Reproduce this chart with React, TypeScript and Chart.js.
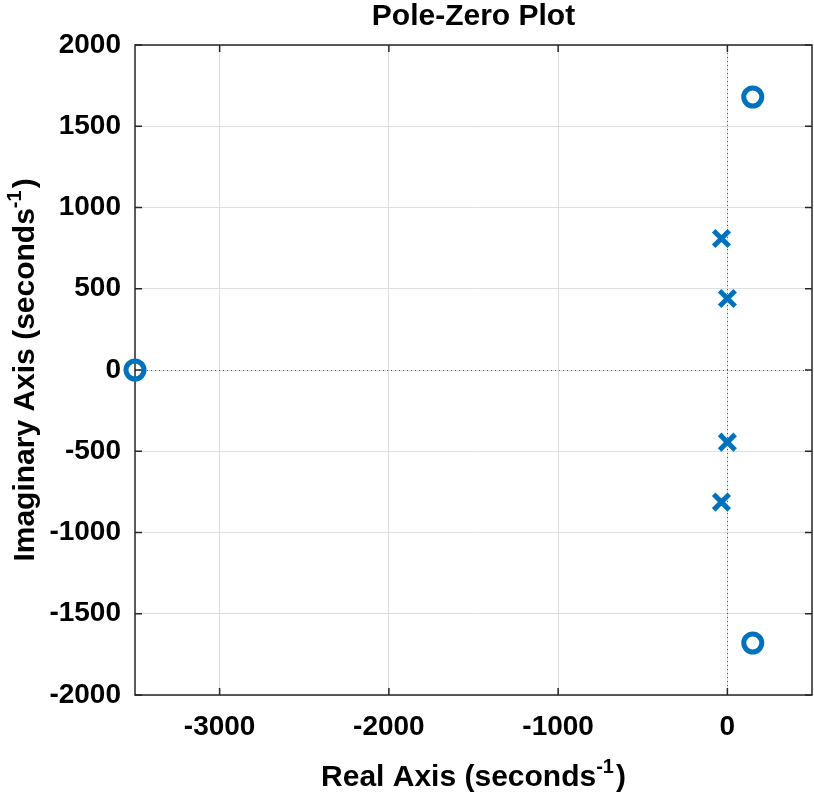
import React, { useEffect, useRef } from "react";
import { Chart, registerables } from "chart.js";

Chart.register(...registerables);

const zerosX = [150, 150, -3500];
const zerosY = [1680, -1680, 0];
const polesX = [-35, 0, 0, -35];
const polesY = [809, 440, -444, -813];
const xTickValues = [-3000, -2000, -1000, 0];
const yTickValues = [-2000, -1500, -1000, -500, 0, 500, 1000, 1500, 2000];
const titleText = "Pole-Zero Plot";
const xTitleMain = "Real Axis (seconds";
const yTitleMain = "Imaginary Axis (seconds";
const titleSup = "-1";
const titleEnd = ")";

const BLUE = "#0072BD";
const FONT = "'Liberation Sans', Arial, Helvetica, sans-serif";

function drawSupTitle(ctx: CanvasRenderingContext2D, main: string, sup: string, end: string, cx: number, baseline: number) {
  const mainFont = `bold 30px ${FONT}`;
  const supFont = `bold 20px ${FONT}`;
  ctx.font = mainFont;
  const wMain = ctx.measureText(main).width;
  const wEnd = ctx.measureText(end).width;
  ctx.font = supFont;
  const wSup = ctx.measureText(sup).width;
  const total = wMain + wSup + 2 + wEnd;
  let x = cx - total / 2;
  ctx.textAlign = "left";
  ctx.textBaseline = "alphabetic";
  ctx.fillStyle = "#000";
  ctx.font = mainFont;
  ctx.fillText(main, x, baseline);
  x += wMain;
  ctx.font = supFont;
  ctx.fillText(sup, x, baseline - 13);
  x += wSup + 2;
  ctx.font = mainFont;
  ctx.fillText(end, x, baseline);
}

const framePlugin = {
  id: "frame",
  beforeDatasetsDraw(chart: any) {
    const { ctx, chartArea } = chart;
    const { left, right, top, bottom } = chartArea;
    const xs = chart.scales.x;
    const ys = chart.scales.y;
    ctx.save();
    ctx.strokeStyle = "#555555";
    ctx.lineWidth = 1;
    ctx.setLineDash([1, 3]);
    const x0 = Math.round(xs.getPixelForValue(0)) + 0.5;
    const y0 = Math.round(ys.getPixelForValue(0)) + 0.5;
    ctx.beginPath();
    ctx.moveTo(x0, top);
    ctx.lineTo(x0, bottom);
    ctx.moveTo(left, y0);
    ctx.lineTo(right, y0);
    ctx.stroke();
    ctx.setLineDash([]);
    ctx.strokeStyle = "#262626";
    ctx.lineWidth = 1.5;
    ctx.strokeRect(left, top, right - left, bottom - top);
    const tl = 7;
    ctx.beginPath();
    xTickValues.forEach((v) => {
      const px = xs.getPixelForValue(v);
      ctx.moveTo(px, bottom);
      ctx.lineTo(px, bottom - tl);
      ctx.moveTo(px, top);
      ctx.lineTo(px, top + tl);
    });
    yTickValues.forEach((v) => {
      const py = ys.getPixelForValue(v);
      ctx.moveTo(left, py);
      ctx.lineTo(left + tl, py);
      ctx.moveTo(right, py);
      ctx.lineTo(right - tl, py);
    });
    ctx.stroke();
    ctx.restore();
  },
  afterDraw(chart: any) {
    const { ctx, chartArea } = chart;
    const { left, right, top, bottom } = chartArea;
    const cx = (left + right) / 2;
    const cy = (top + bottom) / 2;
    ctx.save();
    ctx.fillStyle = "#000";
    ctx.font = `bold 30px ${FONT}`;
    ctx.textAlign = "center";
    ctx.textBaseline = "alphabetic";
    ctx.fillText(titleText, cx, 25);
    drawSupTitle(ctx, xTitleMain, titleSup, titleEnd, cx, 786);
    ctx.translate(34, cy);
    ctx.rotate(-Math.PI / 2);
    drawSupTitle(ctx, yTitleMain, titleSup, titleEnd, 0, 0);
    ctx.restore();
  },
};

export default function App() {
  const ref = useRef<HTMLCanvasElement>(null);
  useEffect(() => {
    document.body.style.margin = "0";
    const canvas = ref.current!;
    const chart = new Chart(canvas, {
      type: "scatter",
      data: {
        datasets: [
          {
            label: "Zeros",
            data: zerosX.map((x, i) => ({ x, y: zerosY[i] })),
            pointStyle: "circle",
            radius: 9,
            borderWidth: 5,
            borderColor: BLUE,
            backgroundColor: "rgba(0,0,0,0)",
            clip: false,
          },
          {
            label: "Poles",
            data: polesX.map((x, i) => ({ x, y: polesY[i] })),
            pointStyle: "crossRot",
            radius: 11,
            borderWidth: 5,
            borderColor: BLUE,
            backgroundColor: BLUE,
            clip: false,
          },
        ],
      },
      options: {
        animation: false,
        responsive: false,
        layout: { autoPadding: false, padding: { right: 2, top: 45 } },
        plugins: {
          legend: { display: false },
          tooltip: { enabled: false },
          title: { display: false },
        },
        scales: {
          x: {
            type: "linear",
            min: -3500,
            max: 500,
            afterBuildTicks: (s: any) => {
              s.ticks = xTickValues.map((v) => ({ value: v }));
            },
            afterFit: (s: any) => {
              s.height = 97;
              s.paddingLeft = 0;
              s.paddingRight = 0;
            },
            grid: { color: "#dedede", drawTicks: false, lineWidth: 1 },
            border: { display: false },
            ticks: {
              color: "#000",
              padding: 15,
              maxRotation: 0,
              font: { family: FONT, size: 28, weight: "bold" },
              callback: (v: any) => String(v),
            },
          },
          y: {
            type: "linear",
            min: -2000,
            max: 2000,
            afterBuildTicks: (s: any) => {
              s.ticks = yTickValues.map((v) => ({ value: v }));
            },
            afterFit: (s: any) => {
              s.width = 135;
              s.paddingTop = 0;
              s.paddingBottom = 0;
            },
            grid: { color: "#dedede", drawTicks: false, lineWidth: 1 },
            border: { display: false },
            ticks: {
              color: "#000",
              padding: 14,
              font: { family: FONT, size: 28, weight: "bold" },
              callback: (v: any) => String(v),
            },
          },
        },
      },
      plugins: [framePlugin],
    });
    return () => chart.destroy();
  }, []);
  return (
    <div style={{ width: 814, height: 792, background: "#fff" }}>
      <canvas ref={ref} width={814} height={792} style={{ width: 814, height: 792, display: "block" }} />
    </div>
  );
}
